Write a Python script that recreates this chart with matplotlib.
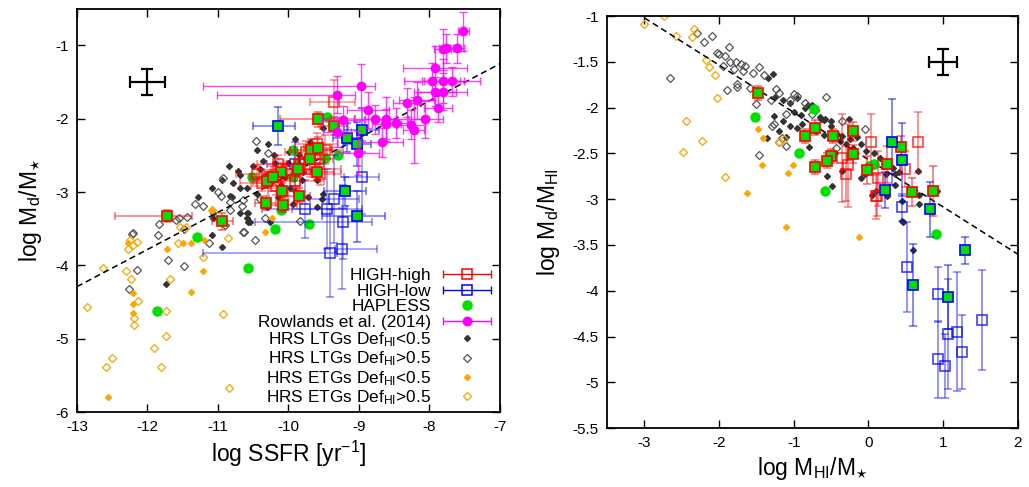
import numpy as np
import matplotlib.pyplot as plt
from matplotlib.lines import Line2D
from matplotlib.collections import LineCollection
from matplotlib.container import ErrorbarContainer
from matplotlib.legend_handler import HandlerErrorbar
from matplotlib.ticker import FuncFormatter

plt.rcParams['font.family'] = ['Liberation Sans', 'DejaVu Sans']
plt.rcParams['mathtext.fontset'] = 'custom'
plt.rcParams['mathtext.rm'] = 'Liberation Sans'
plt.rcParams['mathtext.it'] = 'Liberation Sans:italic'
plt.rcParams['axes.unicode_minus'] = False

# ---------------- left panel: dust-to-stellar mass vs SSFR ----------------
# Rowlands et al. (2014)
rw_x = [-7.52, -7.81, -7.77, -7.61, -7.92, -7.96, -7.81, -7.68, -7.92, -7.81, -7.88, -8.18, -8.32, -8.06,
        -8.26, -8.22, -8.48, -8.62, -8.61, -8.77, -8.67, -8.87, -8.97, -9.23, -9.31, -9.31, -9.01]
rw_y = [-0.81, -1.05, -1.04, -1.04, -1.31, -1.49, -1.48, -1.49, -1.63, -1.63, -1.85, -1.75, -1.78, -2.01,
        -2.08, -2.16, -2.06, -2.01, -2.07, -2.01, -2.32, -1.88, -1.56, -2.02, -1.67, -2.18, -2.47]
rw_xlo = [0.08, 0.12, 0.10, 0.10, 0.45, 0.40, 0.30, 0.40, 0.30, 0.35, 0.20, 0.25, 0.20, 0.25,
          0.20, 0.15, 0.20, 0.30, 0.20, 0.30, 0.30, 0.30, 2.24, 0.30, 1.70, 0.20, 0.30]
rw_xhi = [0.08, 0.12, 0.10, 0.10, 0.45, 0.40, 0.30, 0.40, 0.30, 0.35, 0.20, 0.25, 0.20, 0.25,
          0.20, 0.15, 0.20, 0.30, 0.20, 0.30, 0.30, 0.30, 0.20, 0.30, 0.25, 0.20, 0.30]
rw_yerr = [0.26, 0.28, 0.20, 0.20, 0.30, 0.25, 0.30, 0.20, 0.20, 0.25, 0.20, 0.25, 0.20, 0.25,
           0.20, 0.45, 0.20, 0.30, 0.20, 0.20, 0.20, 0.25, 0.30, 0.20, 0.25, 0.20, 0.30]

# HIGH-high, open squares
hho_x = [-9.35, -9.75, -9.62, -9.85, -10.02, -10.25, -10.38, -10.18, -9.55, -9.70, -9.48, -9.60, -10.45, -9.90, -10.15]
hho_y = [-1.77, -2.45, -2.55, -2.62, -2.70, -2.80, -2.88, -2.92, -2.75, -2.68, -2.42, -2.35, -2.75, -2.85, -2.62]
hho_xlo = [0.35, 0.30, 0.25, 0.35, 0.40, 0.30, 0.30, 0.35, 0.30, 0.45, 0.25, 0.30, 0.30, 0.40, 0.30]
hho_xhi = [0.29, 0.30, 0.25, 0.35, 0.40, 0.30, 0.30, 0.35, 0.30, 0.45, 0.25, 0.30, 0.30, 0.40, 0.30]
hho_yerr = [0.30, 0.15, 0.12, 0.15, 0.12, 0.15, 0.10, 0.12, 0.15, 0.12, 0.20, 0.15, 0.12, 0.10, 0.12]

# HIGH-high that are also HAPLESS (filled)
hhf_x = [-11.72, -10.94, -9.58, -9.35, -10.09, -9.85, -10.32, -10.08, -9.68, -9.58, -9.70, -10.10, -10.30, -9.87, -9.60, -10.22]
hhf_y = [-3.33, -3.40, -2.01, -2.10, -2.98, -3.05, -3.15, -3.17, -2.42, -2.40, -2.55, -2.73, -2.85, -2.68, -2.72, -2.80]
hhf_xlo = [0.74, 0.15, 0.54, 0.20, 0.20, 0.15, 0.15, 0.20, 0.30, 0.20, 0.20, 0.25, 0.20, 0.30, 0.25, 0.20]
hhf_xhi = [0.35, 0.15, 0.52, 0.20, 0.20, 0.15, 0.15, 0.20, 0.30, 0.20, 0.20, 0.25, 0.20, 0.30, 0.25, 0.20]
hhf_yerr = [0.08, 0.12, 0.10, 0.12, 0.10, 0.10, 0.10, 0.10, 0.15, 0.15, 0.15, 0.12, 0.10, 0.12, 0.12, 0.10]

# HIGH-low, open and filled squares
hlo_x = [-8.96, -9.35, -9.77, -9.45, -9.23, -9.41, -9.24, -9.90]
hlo_y = [-2.80, -3.10, -3.23, -3.23, -3.41, -3.83, -3.77, -2.62]
hlo_xlo = [0.25, 0.35, 0.60, 0.50, 1.25, 1.80, 0.10, 0.40]
hlo_xhi = [0.25, 0.35, 0.60, 0.50, 0.41, 0.10, 0.50, 0.40]
hlo_yerr = [0.50, 0.60, 0.40, 0.55, 0.50, 0.60, 0.55, 0.30]

hlf_x = [-10.15, -9.17, -8.96, -9.03, -9.20, -9.03]
hlf_y = [-2.10, -2.26, -2.16, -2.34, -2.99, -3.33]
hlf_xlo = [0.35, 0.20, 0.25, 0.20, 0.30, 0.50]
hlf_xhi = [0.24, 0.20, 0.25, 0.20, 0.30, 0.40]
hlf_yerr = [0.26, 0.20, 0.30, 0.30, 0.20, 0.35]

# HAPLESS
hap_x = [-9.45, -9.94, -9.30, -9.48, -9.88, -10.52, -10.29, -9.94, -10.11, -9.71, -10.19, -11.30, -10.57, -11.87]
hap_y = [-1.97, -2.42, -2.49, -2.54, -2.63, -2.79, -2.79, -2.80, -3.25, -3.44, -3.51, -3.61, -4.03, -4.62]

# HRS late types, Def_HI < 0.5
ltg1_x = [-10.29, -10.45, -9.99, -9.91, -9.51, -10.36, -10.19, -10.40, -10.72, -10.69, -10.79, -10.59, -10.45,
          -10.94, -11.09, -11.28, -10.83, -10.69, -10.59, -10.05, -9.98, -9.81, -9.79, -9.65, -9.60, -9.91,
          -10.15, -9.72, -9.51, -9.70, -9.77, -9.45, -11.07, -11.09, -10.26, -9.94, -10.94, -10.57, -11.74,
          -10.69, -10.80, -10.59, -10.55, -10.20, -10.00, -10.50, -10.10, -9.85, -10.30, -9.60, -10.85, -9.52,
          -11.07, -10.57]
ltg1_y = [-2.35, -2.43, -2.46, -2.28, -2.12, -2.57, -2.60, -2.68, -2.71, -2.77, -2.88, -2.95, -3.02,
          -2.84, -2.94, -3.07, -3.05, -3.29, -3.36, -2.80, -2.94, -2.84, -2.73, -2.71, -2.84, -2.98,
          -3.07, -3.07, -3.02, -2.32, -2.53, -2.53, -3.36, -3.59, -3.41, -3.16, -3.75, -3.41, -4.26,
          -2.94, -3.07, -3.28, -3.41, -2.50, -2.60, -2.65, -2.90, -2.50, -3.20, -3.20, -2.65, -3.09,
          -3.28, -3.28]

# HRS late types, Def_HI > 0.5
ltg2_x = [-10.46, -10.93, -10.65, -10.40, -10.29, -11.00, -10.66, -11.21, -10.83, -10.33, -10.65, -10.83,
          -11.84, -11.60, -11.55, -11.48, -12.20, -11.85, -11.13, -10.47, -10.63, -11.71, -11.48, -12.15,
          -12.26, -10.95, -9.84, -10.90, -12.22, -11.33, -11.44]
ltg2_y = [-2.30, -2.81, -3.11, -3.09, -2.47, -3.00, -3.19, -3.19, -3.14, -3.36, -3.55, -3.25,
          -3.43, -3.38, -3.36, -3.50, -3.56, -3.59, -3.70, -3.65, -3.55, -3.93, -4.01, -4.06,
          -4.32, -3.05, -3.39, -3.45, -3.57, -3.16, -3.34]

# HRS early types, Def_HI < 0.5
etg1_x = [-12.56, -12.28, -12.21, -12.21, -12.21, -11.72, -11.50, -11.38, -11.38, -11.21, -11.20, -10.33, -10.23, -11.09]
etg1_y = [-5.80, -3.70, -4.38, -4.53, -4.65, -3.77, -3.70, -3.70, -4.37, -4.08, -3.66, -3.55, -3.36, -3.24]

# HRS early types, Def_HI > 0.5
etg2_x = [-12.63, -12.86, -12.30, -12.23, -12.13, -12.19, -12.19, -12.25, -12.20, -12.15, -12.28, -12.50, -12.59,
          -11.91, -11.81, -11.74, -11.74, -11.68, -11.57, -11.54, -11.45, -11.21, -10.84, -10.93, -10.86, -11.09]
etg2_y = [-4.03, -4.57, -4.07, -4.18, -4.48, -4.72, -4.82, -3.65, -3.72, -3.68, -3.77, -5.26, -5.39,
          -5.13, -5.38, -4.96, -4.62, -4.18, -3.70, -3.48, -3.47, -3.89, -5.67, -4.66, -3.62, -3.25]

# best-fit relation and typical error
fit1_x = [-13.0, -7.0]
fit1_y = [-4.29, -1.25]
typ1 = (-12.0, -1.5, 0.25, 0.18)

# ---------------- right panel: dust-to-HI mass vs HI fraction ----------------
r_hhf_x = [-1.48, -0.72, -0.85, -0.47, -0.20, -0.50, -0.55, -0.72, -0.20, -0.02, 0.25, 0.44, 0.58, 0.87]
r_hhf_y = [-1.84, -2.22, -2.31, -2.31, -2.26, -2.53, -2.58, -2.65, -2.51, -2.68, -2.62, -2.43, -2.92, -2.91]
r_hhf_yerr = [0.08, 0.08, 0.08, 0.08, 0.10, 0.08, 0.08, 0.08, 0.10, 0.15, 0.20, 0.12, 0.15, 0.27]

r_hho_x = [0.67, 0.49, 0.04, 0.13, -0.27, 0.10, -0.35, 0.12, -0.30]
r_hho_y = [-2.38, -2.67, -2.37, -2.77, -2.63, -2.97, -2.55, -2.96, -2.72]
r_hho_yerr = [0.33, 0.20, 0.30, 0.30, 0.45, 0.25, 0.48, 0.22, 0.30]

r_hlf_x = [0.31, 0.45, 0.22, 0.82, 1.30, 0.60, 1.06]
r_hlf_y = [-2.38, -2.57, -2.90, -3.11, -3.56, -3.94, -4.07]
r_hlf_yerr = [0.47, 0.40, 0.20, 0.30, 0.15, 0.45, 0.35]

r_hlo_x = [0.45, 0.52, 0.93, 0.93, 1.02, 1.06, 1.19, 1.26, 1.52]
r_hlo_y = [-3.09, -3.74, -4.04, -4.75, -4.82, -4.47, -4.45, -4.67, -4.32]
r_hlo_yerr = [0.15, 0.49, 0.30, 0.42, 0.35, 0.60, 0.65, 0.40, 0.55]

r_hap_x = [-0.73, -1.52, -0.93, -0.58, 0.08, 0.01, 0.91]
r_hap_y = [-2.01, -2.10, -2.50, -2.91, -2.62, -2.64, -3.38]

r_ltg1_x = [-1.28, -1.35, -1.25, -1.15, -1.05, -0.95, -0.85, -0.75, -0.70, -0.65, -0.58, -0.50, -0.90, -1.00,
            -1.36, -1.10, -0.81, -0.64, -0.60, -1.27, -1.15, -1.05, -0.95, -0.89, -0.26, -0.42, -0.35, -0.25,
            -0.15, -0.10, -0.20, -0.30, -0.38, -0.80, -0.03, 0.08, 0.15, 0.24, 0.33, 0.36, 0.41, -0.05, -0.10,
            -0.49, -0.55, -0.35, 0.10, 0.25, 0.45, 0.66, 0.68, 0.68, 0.92, 0.05, 0.24, 0.35, 0.45, 0.47, 0.60,
            -0.50, -0.70, -0.60, -1.20, -0.45]
r_ltg1_y = [-1.63, -1.68, -1.88, -1.92, -1.95, -1.90, -2.00, -1.97, -2.03, -2.10, -2.12, -2.15, -2.08, -2.05,
            -2.33, -2.32, -1.97, -2.12, -2.13, -2.09, -2.15, -2.20, -2.22, -2.18, -2.12, -2.29, -2.31, -2.34,
            -2.32, -2.40, -2.44, -2.40, -2.36, -2.43, -2.47, -2.50, -2.55, -2.58, -2.66, -2.73, -2.70, -2.72, -2.77,
            -2.86, -2.75, -2.69, -2.91, -2.97, -3.02, -2.69, -2.95, -3.05, -2.91, -2.95, -2.73, -2.84, -3.24, -3.25, -3.56,
            -2.20, -2.25, -2.30, -2.25, -2.50]

r_ltg2_x = [-2.66, -2.30, -2.09, -1.87, -2.03, -2.00, -1.92, -1.85, -1.78, -1.70, -1.65, -1.80, -1.68, -1.90,
            -1.76, -1.76, -1.59, -1.47, -1.40, -1.24, -1.20, -1.27, -1.47, -1.00, -0.95, -1.05, -1.10, -0.76,
            -0.57, -1.16, -1.51, -1.29, -1.20, -1.10, -0.35, -0.04, -0.43, -2.20, -1.95, -1.55, -0.85, -1.30]
r_ltg2_y = [-1.68, -1.19, -1.22, -1.34, -1.40, -1.41, -1.44, -1.50, -1.50, -1.52, -1.55, -1.58, -1.60, -1.81,
            -1.78, -1.74, -1.79, -1.56, -1.64, -1.80, -1.84, -2.18, -2.52, -1.85, -1.87, -1.92, -2.07, -2.07,
            -1.88, -2.33, -1.96, -2.20, -2.38, -2.42, -2.15, -2.23, -2.44, -1.28, -1.55, -1.62, -1.95, -1.92]

r_etg1_x = [-1.48, -1.41, -1.43, -1.01, -1.08, -1.62, -1.10, -0.12, -0.60, -0.70]
r_etg1_y = [-2.23, -2.33, -2.63, -2.63, -2.71, -2.93, -3.30, -3.41, -2.60, -2.62]

r_etg2_x = [-2.74, -3.00, -2.58, -2.34, -2.36, -2.17, -2.13, -2.05, -2.03, -2.44, -2.23, -2.48, -1.92, -1.13, -1.20]
r_etg2_y = [-1.00, -1.09, -1.22, -1.14, -1.23, -1.48, -1.56, -1.64, -1.89, -2.15, -2.36, -2.48, -2.76, -2.34, -2.38]

fit2_x = [-3.0, 2.0]
fit2_y = [-1.02, -3.60]
typ2 = (1.0, -1.5, 0.19, 0.14)

RED = '#ff0000'
BLUE = '#0000ff'
GREEN = '#00e000'
MAG = '#ff00ff'
ORANGE = '#ffa500'
DARK = '#333333'
GREY = '#555555'
SQ = 7


def hrs(ax):
    h1, = ax.plot([], [], 'D', ms=3, color=DARK, ls='none', zorder=2)
    h2, = ax.plot([], [], 'D', ms=4.5, mfc='none', mec=GREY, mew=0.9, ls='none', zorder=2)
    h3, = ax.plot([], [], 'D', ms=3, color=ORANGE, ls='none', zorder=2)
    h4, = ax.plot([], [], 'D', ms=4.5, mfc='none', mec=ORANGE, mew=0.9, ls='none', zorder=2)
    return h1, h2, h3, h4


def style(ax):
    ax.tick_params(direction='in', top=True, right=True, length=6, width=1, labelsize=11, pad=6)
    for s in ax.spines.values():
        s.set_linewidth(1.3)
    ax.xaxis.set_major_formatter(FuncFormatter(lambda v, p: '%g' % v))
    ax.yaxis.set_major_formatter(FuncFormatter(lambda v, p: '%g' % v))


def key(color, mfc, ms):
    line = Line2D([], [], color=color, marker='s' if mfc != MAG else 'o', mfc=mfc, mec=color,
                  ms=ms, ls='none', mew=1.1)
    cap = Line2D([], [], color=color, marker='|', ms=6, mew=1.0)
    bars = LineCollection([], colors=[color], linewidths=1.0)
    return ErrorbarContainer((line, (cap, cap), (bars,)), has_xerr=True, has_yerr=False)


fig = plt.figure(figsize=(10.29, 4.87), dpi=100)
ax1 = fig.add_axes([0.0748, 0.154, 0.411, 0.828])
ax2 = fig.add_axes([0.590, 0.121, 0.399, 0.846])

# ---- left panel ----
h1, h2, h3, h4 = hrs(ax1)
h1.set_data(ltg1_x, ltg1_y)
h2.set_data(ltg2_x, ltg2_y)
h3.set_data(etg1_x, etg1_y)
h4.set_data(etg2_x, etg2_y)
ax1.plot(fit1_x, fit1_y, '--', color='black', lw=1.1, dashes=(4, 2.5), zorder=3)
hap, = ax1.plot(hap_x, hap_y, 'o', ms=6.5, color=GREEN, ls='none', zorder=3)

ax1.errorbar(hlo_x, hlo_y, xerr=[hlo_xlo, hlo_xhi], yerr=hlo_yerr, fmt='s', ms=SQ, mfc='none',
             mec=(0, 0, 1, 0.75), mew=1.2, ecolor=(0, 0, 1, 0.45), elinewidth=1.1, capsize=3, zorder=4)
ax1.errorbar(hho_x, hho_y, xerr=[hho_xlo, hho_xhi], yerr=hho_yerr, fmt='s', ms=SQ, mfc='none',
             mec=(1, 0, 0, 0.75), mew=1.2, ecolor=(1, 0, 0, 0.45), elinewidth=1.1, capsize=3, zorder=4)
ax1.errorbar(hhf_x, hhf_y, xerr=[hhf_xlo, hhf_xhi], yerr=hhf_yerr, fmt='s', ms=SQ, mfc=GREEN,
             mec=RED, mew=1.2, ecolor=(1, 0, 0, 0.55), elinewidth=1.1, capsize=3, zorder=5)
ax1.errorbar(hlf_x, hlf_y, xerr=[hlf_xlo, hlf_xhi], yerr=hlf_yerr, fmt='s', ms=SQ, mfc=GREEN,
             mec=BLUE, mew=1.2, ecolor=(0, 0, 1, 0.55), elinewidth=1.1, capsize=3, zorder=5)
ax1.errorbar(rw_x, rw_y, xerr=[rw_xlo, rw_xhi], yerr=rw_yerr, fmt='o', ms=6, color=MAG,
             ecolor=(1, 0, 1, 0.75), elinewidth=1.0, capsize=3, zorder=6)
ax1.errorbar([typ1[0]], [typ1[1]], xerr=[typ1[2]], yerr=[typ1[3]], fmt='none', ecolor='black',
             elinewidth=1.6, capsize=4, capthick=1.6)

ax1.set_xlim(-13, -7)
ax1.set_ylim(-6, -0.5)
ax1.set_xticks(np.arange(-13, -6.5, 1))
ax1.set_yticks(np.arange(-6, -0.5, 1))
style(ax1)
ax1.set_xlabel('log SSFR [yr$^{-1}$]', fontsize=16.5, labelpad=3)
ax1.set_ylabel('log M$_{\\mathrm{d}}$/M$_{\\star}$', fontsize=16.5, labelpad=8)

handles = [key(RED, 'none', SQ), key(BLUE, 'none', SQ), hap, key(MAG, MAG, 6), h1, h2, h3, h4]
labels = ['HIGH-high', 'HIGH-low', 'HAPLESS', 'Rowlands et al. (2014)',
          'HRS LTGs Def$_{\\mathrm{HI}}$<0.5', 'HRS LTGs Def$_{\\mathrm{HI}}$>0.5',
          'HRS ETGs Def$_{\\mathrm{HI}}$<0.5', 'HRS ETGs Def$_{\\mathrm{HI}}$>0.5']
ax1.legend(handles, labels, loc='lower right', markerfirst=False, frameon=False, fontsize=12.4,
           handlelength=3.2, handletextpad=0.5, labelspacing=0.03, borderpad=0.1, borderaxespad=0.2,
           handler_map={ErrorbarContainer: HandlerErrorbar(xerr_size=1.4)})

# ---- right panel ----
g1, g2, g3, g4 = hrs(ax2)
g1.set_data(r_ltg1_x, r_ltg1_y)
g2.set_data(r_ltg2_x, r_ltg2_y)
g3.set_data(r_etg1_x, r_etg1_y)
g4.set_data(r_etg2_x, r_etg2_y)
ax2.plot(fit2_x, fit2_y, '--', color='black', lw=1.1, dashes=(4, 2.5), zorder=3)
ax2.plot(r_hap_x, r_hap_y, 'o', ms=6.5, color=GREEN, ls='none', zorder=3)

ax2.errorbar(r_hlo_x, r_hlo_y, yerr=r_hlo_yerr, fmt='s', ms=SQ, mfc='none', mec=(0, 0, 1, 0.75),
             mew=1.2, ecolor=(0, 0, 1, 0.45), elinewidth=1.3, capsize=3, zorder=4)
ax2.errorbar(r_hho_x, r_hho_y, yerr=r_hho_yerr, fmt='s', ms=SQ, mfc='none', mec=(1, 0, 0, 0.75),
             mew=1.2, ecolor=(1, 0, 0, 0.45), elinewidth=1.3, capsize=3, zorder=4)
ax2.errorbar(r_hhf_x, r_hhf_y, yerr=r_hhf_yerr, fmt='s', ms=SQ, mfc=GREEN, mec=RED, mew=1.2,
             ecolor=(1, 0, 0, 0.55), elinewidth=1.2, capsize=3, zorder=5)
ax2.errorbar(r_hlf_x, r_hlf_y, yerr=r_hlf_yerr, fmt='s', ms=SQ, mfc=GREEN, mec=BLUE, mew=1.2,
             ecolor=(0, 0, 1, 0.55), elinewidth=1.2, capsize=3, zorder=5)
ax2.errorbar([typ2[0]], [typ2[1]], xerr=[typ2[2]], yerr=[typ2[3]], fmt='none', ecolor='black',
             elinewidth=1.6, capsize=4, capthick=1.6)

ax2.set_xlim(-3.5, 2)
ax2.set_ylim(-5.5, -1)
ax2.set_xticks(np.arange(-3, 2.5, 1))
ax2.set_yticks(np.arange(-5.5, -0.75, 0.5))
style(ax2)
ax2.set_xlabel('log M$_{\\mathrm{HI}}$/M$_{\\star}$', fontsize=16.5, labelpad=3)
ax2.set_ylabel('log M$_{\\mathrm{d}}$/M$_{\\mathrm{HI}}$', fontsize=16.5, labelpad=8)

fig.savefig('out.png', dpi=100)
